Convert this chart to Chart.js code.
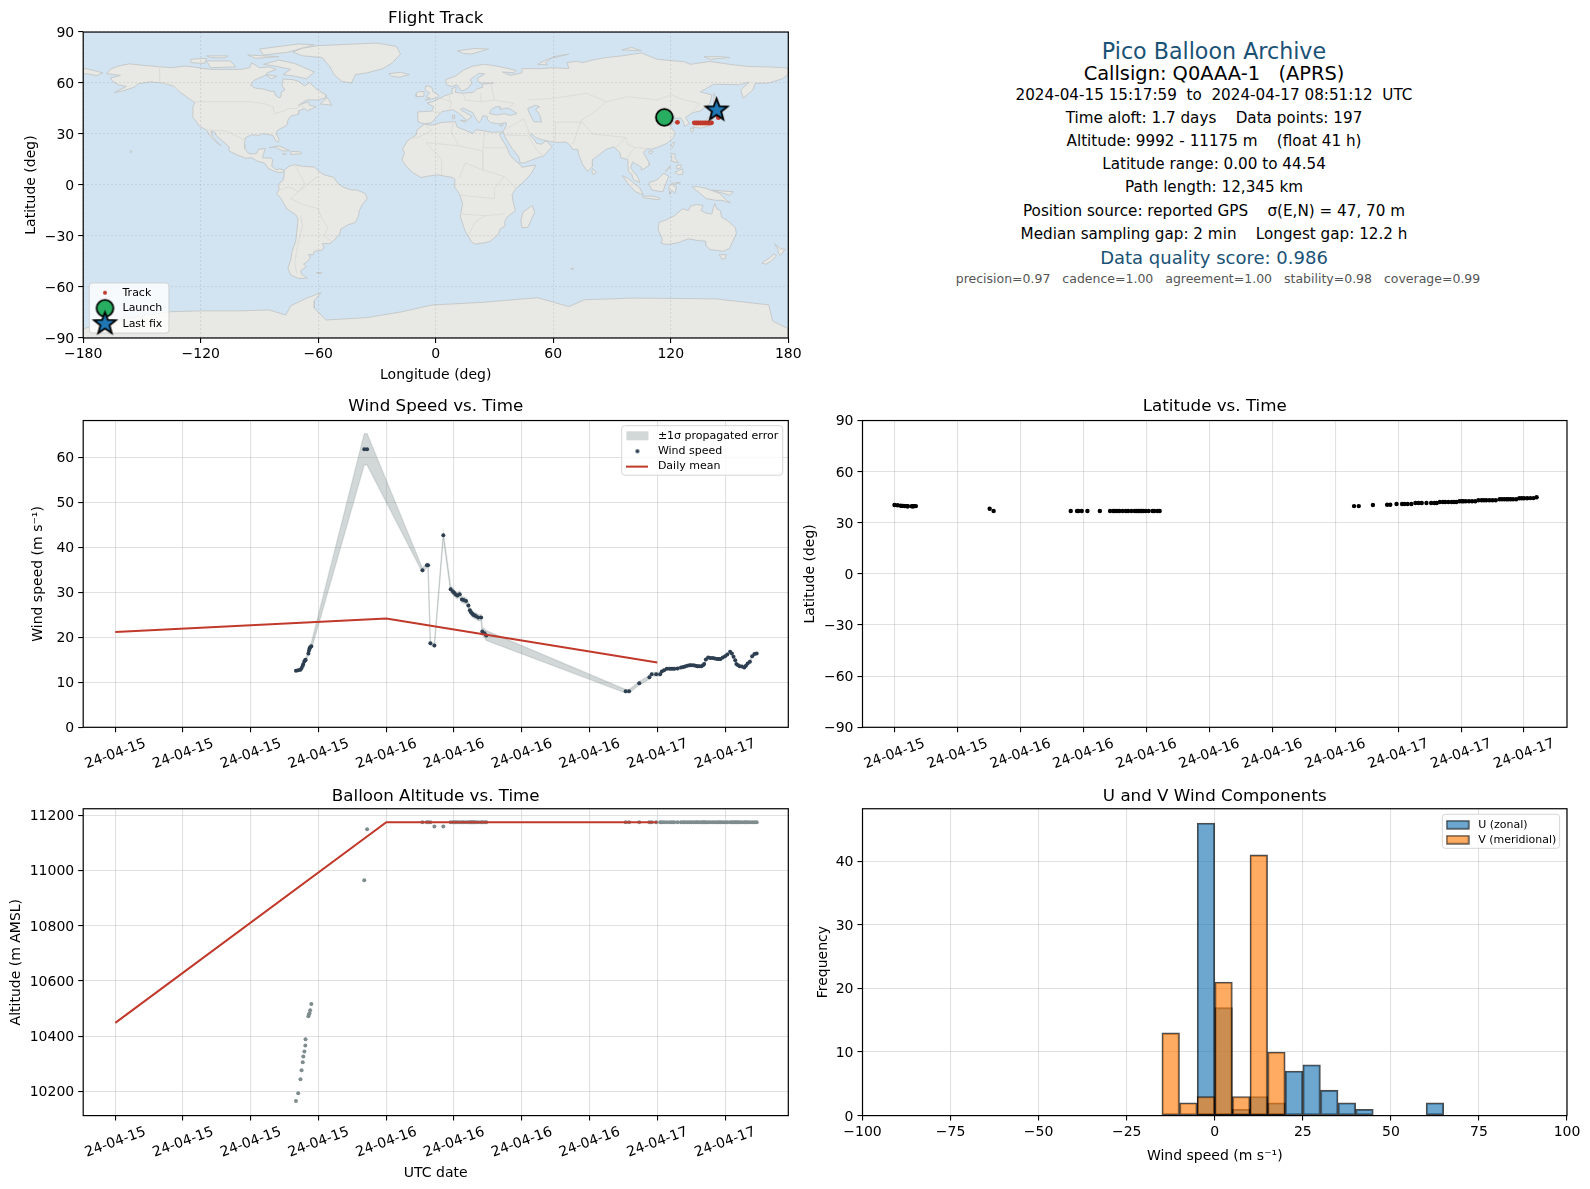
<!DOCTYPE html>
<html>
<head>
<meta charset="utf-8">
<title>Pico Balloon Archive</title>
<script src="https://cdn.jsdelivr.net/npm/chart.js@4"></script>
<style>
  html, body { margin: 0; padding: 0; background: #fff; }
  body { width: 1590px; height: 1189px; position: relative; overflow: hidden; font-family: "DejaVu Sans", sans-serif; }
  canvas { position: absolute; }
  .line { position: absolute; left: 1214px; transform: translate(-50%, -50%); white-space: pre; color: #000; }
</style>
</head>
<body>
<script>
// flight samples, hours since 2024-04-15 00:00 UTC
const sampleHours = [
  16.0,16.2,16.4,16.5,16.6,16.65,16.75,16.83,16.85,17.1,17.15,17.2,17.26,17.36,
  22.05,22.3,
  27.2,27.6,27.7,27.9,28.26,29.05,
  29.7,29.9,30.0,30.15,30.3,30.5,30.7,30.85,31.06,31.27,31.4,31.5,31.6,31.7,31.8,31.95,32.15,32.4,32.5,32.7,32.85,
  45.2,45.5,46.4,47.3,47.5,47.9,48.25,
  48.4,48.6,48.84,49.1,49.3,49.5,49.8,50.1,50.3,50.45,
  50.65,50.85,51.0,51.2,51.4,51.55,51.7,51.9,52.05,52.15,
  52.3,52.5,52.7,52.9,53.1,53.3,53.45,53.6,53.8,54.0,
  54.2,54.45,54.6,54.75,54.9,55.0,55.15,55.3,55.5,55.7,
  55.85,56.0,56.2,56.4,56.6,56.8
];
const windSpeed = [
  12.6,12.7,12.8,13.2,13.7,14.1,14.7,14.9,15.0,16.4,17.0,17.5,17.8,18.0,
  61.8,61.8,
  34.9,36.0,36.0,18.7,18.2,42.7,
  30.7,30.2,29.9,29.5,29.3,29.6,28.4,28.3,28.1,27.1,26.0,25.6,25.3,25.0,24.9,24.7,24.4,24.4,21.3,20.9,20.4,
  8.0,8.0,9.8,11.1,11.8,11.8,11.8,
  12.4,12.7,13.0,13.0,13.0,13.0,13.1,13.3,13.4,13.5,
  13.7,13.8,13.8,13.8,13.7,13.6,13.6,13.6,13.8,14.1,
  15.1,15.5,15.4,15.4,15.3,15.2,15.2,15.2,15.5,15.8,
  16.2,16.8,16.4,15.7,14.9,14.1,13.8,13.6,13.5,13.3,
  13.7,14.2,14.6,15.8,16.3,16.4
];
const windSigma = [
  0.3,0.3,0.3,0.3,0.3,0.3,0.3,0.3,0.3,0.4,0.4,0.4,0.5,0.8,
  3.5,3.5,
  0.5,0.5,0.5,0.4,0.4,0.6,
  0.7,0.7,0.7,0.7,0.7,0.7,0.7,0.7,0.7,0.7,0.7,0.7,0.7,0.7,0.7,0.7,0.7,0.7,0.8,1.0,1.1,
  0.4,0.4,0.4,0.4,0.4,0.4,0.4,
  0.3,0.3,0.3,0.3,0.3,0.3,0.3,0.3,0.3,0.3,
  0.3,0.3,0.3,0.3,0.3,0.3,0.3,0.3,0.3,0.3,
  0.3,0.3,0.3,0.3,0.3,0.3,0.3,0.3,0.3,0.3,
  0.3,0.3,0.3,0.3,0.3,0.3,0.3,0.3,0.3,0.3,
  0.3,0.3,0.3,0.3,0.3,0.3
];
const altitude = [
  10165,10193,10244,10276,10305,10326,10344,10366,10389,10472,10478,10483,10494,10516,
  10965,11150,
  11175,11175,11175,11175,11160,11160,
  11175,11175,11175,11175,11175,11175,11175,11175,11175,11175,11175,11175,11175,11175,11175,11175,11175,11175,11175,11175,11175,
  11175,11175,11175,11175,11175,11175,11175,
  11175,11175,11175,11175,11175,11175,11175,11175,11175,11175,
  11175,11175,11175,11175,11175,11175,11175,11175,11175,11175,
  11175,11175,11175,11175,11175,11175,11175,11175,11175,11175,
  11175,11175,11175,11175,11175,11175,11175,11175,11175,11175,
  11175,11175,11175,11175,11175,11175
];
const latitude = [
  40.4,40.3,40.0,39.9,39.9,39.8,39.8,39.7,39.7,39.7,39.7,39.7,39.8,39.8,
  38.2,36.9,
  36.9,36.9,36.9,36.9,36.9,36.9,
  36.9,36.9,36.9,36.9,36.9,36.9,36.9,36.9,36.9,36.9,36.9,36.9,36.9,36.9,36.9,36.9,36.9,36.9,36.9,36.9,36.9,
  39.8,39.8,40.4,40.6,40.6,41.0,41.0,
  41.0,41.0,41.0,41.6,41.6,41.6,41.6,41.6,41.6,41.6,
  42.2,42.2,42.2,42.2,42.2,42.2,42.2,42.6,42.6,42.6,
  42.6,42.6,42.6,42.6,43.2,43.2,43.2,43.2,43.2,43.2,
  43.2,43.8,43.8,43.8,43.8,43.8,43.8,43.8,43.8,44.4,
  44.4,44.4,44.4,44.5,44.5,45.0
];

const meanHours = [0, 24, 48];
const meanWind = [21.2, 24.2, 14.4];
const meanAltitude = [10448, 11175, 11175];

const trackPoints = [[117.5,40],[118.5,39.9],[123.4,36.9],[132,36.6],[133,36.5],[134,36.5],[135,36.5],[136,36.5],[137,36.5],[138,36.5],[139,36.5],[140,36.5],[140.8,36.6],[144.3,39.6],[144.2,40.5],[144,41.5],[143.8,42.5],[143.5,43.5]];
const launchPoint = [116.7, 39.8];
const lastFixPoint = [143.4, 44.1];

const binCenters = [-12.5,-7.5,-2.5,2.5,7.5,12.5,17.5,22.5,27.5,32.5,37.5,42.5,62.5];
const uCounts = [0,0,46,17,1,3,2,7,8,4,2,1,2];
const vCounts = [13,2,3,21,3,41,10,0,0,0,0,0,0];

const infoLines = [
  ['Pico Balloon Archive', 51, 22.2, '#1a5276', 1214],
  ['Callsign: Q0AAA-1   (APRS)', 73, 19.4, '#000', 1214],
  ['2024-04-15 15:17:59  to  2024-04-17 08:51:12  UTC', 94.5, 15.2, '#000', 1214],
  ['Time aloft: 1.7 days    Data points: 197', 117.5, 15.2, '#000', 1214],
  ['Altitude: 9992 - 11175 m    (float 41 h)', 141, 15.2, '#000', 1214],
  ['Latitude range: 0.00 to 44.54', 163.5, 15.2, '#000', 1214],
  ['Path length: 12,345 km', 186.5, 15.2, '#000', 1214],
  ['Position source: reported GPS    σ(E,N) = 47, 70 m', 210.5, 15.2, '#000', 1214],
  ['Median sampling gap: 2 min    Longest gap: 12.2 h', 233.5, 15.2, '#000', 1214],
  ['Data quality score: 0.986', 257, 18, '#1a5276', 1214],
  ['precision=0.97   cadence=1.00   agreement=1.00   stability=0.98   coverage=0.99', 277.5, 12.5, '#555', 1218]
];

// coastlines, lon/lat
const northAmerica = [[-168,65.5],[-166,68.3],[-162,70],[-156.5,71.3],[-150,70.5],[-141,69.6],[-135,69],[-128,70],[-124,69.5],[-115,68],[-108,68],[-100,68],[-95,69],[-94,72],[-90,69],[-85,69.5],[-81.5,68],[-86,66],[-87,64.5],[-93,61.5],[-94.5,58.7],[-92,57],[-88,56.5],[-85,55.3],[-82.3,55],[-82,53],[-80,51.3],[-79,52],[-79,54.5],[-77,56],[-78.5,58.5],[-78,62.3],[-73,62],[-70,61],[-67,58.3],[-64.5,60.3],[-61,56.5],[-56,53],[-56,51.5],[-60,50],[-66,50],[-70,47],[-65,49],[-64.5,47],[-61,46],[-65.5,43.7],[-67,45],[-70,43.7],[-70,41.7],[-74,40.5],[-75.5,38],[-76,35.2],[-78,33.9],[-81,32],[-81.3,30],[-80,26.8],[-80.5,25.2],[-81.7,26],[-83,29],[-85,29.7],[-89,30.2],[-90,29.2],[-94,29.6],[-97.2,27.8],[-97.7,24],[-97.5,21.5],[-96,19],[-94,18.2],[-91.5,18.6],[-90.5,21],[-87,21.5],[-88,18],[-88.5,16],[-84,15.8],[-83.3,14.9],[-83.7,11],[-81.5,9],[-79.5,9.5],[-77.3,8.6],[-78,7.5],[-80,7.3],[-83,8.3],[-85.7,10],[-87.5,13],[-91,14],[-94,16],[-97,15.8],[-102,18],[-105.5,20],[-105.5,22.5],[-108.5,25.5],[-112,29],[-113,31.3],[-114.8,31.5],[-114,28.5],[-110.5,24],[-109.5,23],[-112,25],[-115,28.5],[-117.2,32.5],[-120.5,34.5],[-122.5,37.7],[-124.3,40.3],[-124,46],[-123,48.5],[-125,50],[-128,52.5],[-130.5,54.5],[-133.5,58],[-139,60],[-146,60.7],[-152,59.5],[-154,57.5],[-160,55.3],[-164,54.5],[-158,58],[-162,59],[-165,61],[-166,63],[-161,64.5]];
const southAmerica = [[-77.3,8.6],[-75,11],[-72,12],[-68,11],[-62,10.6],[-60,8.3],[-57,6],[-52,4.5],[-50,1],[-48,-0.8],[-44,-2.7],[-40,-3],[-36,-5],[-35,-8],[-37.5,-11.5],[-39,-15],[-39.5,-18.5],[-41,-22],[-45,-23.5],[-48.5,-26],[-49,-28.8],[-52,-32.5],[-54,-34.5],[-58,-34.5],[-57,-36.5],[-58,-38.3],[-62,-39],[-62.5,-41],[-65,-41],[-64,-42.5],[-65.5,-45],[-67.5,-46.5],[-66,-48],[-69,-50.5],[-68.5,-52.5],[-65.5,-54.8],[-70,-55],[-74,-53],[-75.5,-49],[-74,-44],[-73.5,-39.5],[-71.5,-33],[-71,-28],[-70.3,-20],[-71.5,-17.5],[-76,-14],[-79,-8],[-81.2,-5],[-80,-2.5],[-80.3,0.5],[-78,2.8],[-77.5,5]];
const africa = [[-5.8,35.8],[-2,35.2],[3,36.8],[10,37.3],[11,34],[15,32.3],[19,30.3],[20.5,32.6],[25,31.8],[29,31],[32.5,31.2],[34.3,31.3],[32.5,29.5],[34,26.5],[36.5,22],[37.5,18.5],[39.5,15.5],[43,12],[44,10.5],[51,11.8],[49,7],[45,2],[41,-2],[39,-5.5],[39.5,-10],[40.7,-15],[36.5,-18.8],[35,-22],[35.5,-24],[32.8,-26],[32,-29],[28,-33],[25,-34],[20,-34.8],[18.3,-33.5],[15,-27],[12.5,-18.5],[13.7,-11],[12,-5],[9.5,-1],[9.7,3.5],[8.5,4.5],[5.5,5],[1,6],[-4,5.2],[-7.5,4.4],[-12,7.5],[-15,11],[-17.3,14.7],[-16,19],[-17,21],[-14.5,26],[-10,29.5],[-9.5,32.5]];
const eurasia = [[-9,37],[-9.3,43],[-2,43.5],[-1,46],[-4.5,48.3],[-1.5,49],[2,51],[4.5,52.5],[8.5,54],[8.2,56.8],[10.5,57.5],[10,54.5],[14,54],[19,54.5],[21,56.5],[24,57.5],[23.5,59.3],[29.5,60],[23,60],[21.5,61],[21.5,63],[25,65.3],[22,65.7],[17.5,62],[18.5,60],[16.5,57],[14,55.5],[12.5,56],[11,59],[8,58],[5.5,59],[5,62],[10,64],[14,67.5],[19,70],[25,71],[31,70],[41,67.5],[40,66],[34,66.5],[38,64.5],[44,66],[44,68.5],[54,68.5],[60,69],[68,68.5],[67,72],[72,72.8],[75,72],[80,73.5],[87,75],[95,76],[105,77.7],[113,74],[127,72.5],[130,71],[140,72.7],[150,71],[160,69.7],[170,69.5],[178,69],[180,68.8],[180,65],[177,62.5],[170,60],[163,59.8],[162,56],[157,51],[155.7,56],[160,60.5],[155,59],[142,59.3],[135,54.8],[141,53],[140,48],[135,43.5],[131,42.5],[127.5,39.8],[129.5,36],[127,34.5],[126.5,37],[125,39.5],[121.5,39],[122,40.7],[118,39],[119,37.3],[122.5,37],[119.5,35],[122,31],[121.5,28],[118,24.5],[113.5,22.3],[110,21],[108,21.5],[106,19],[109,13],[109,11.5],[105,8.7],[105,10.5],[100.5,13.5],[99.5,10],[103,5],[104.2,1.5],[101,3],[100,6.5],[98.3,8],[98,15],[94.5,16],[94,19],[91,22.5],[87,21],[82,16.5],[80,15],[80,11],[77.5,8],[75,12],[73,18],[72.5,21],[70,21],[68.5,23.5],[66.5,25.3],[61,25],[57,26],[54,26.7],[51,28],[49,30],[48,29.5],[50.5,26.5],[51.5,24.5],[54,24],[56.3,26],[59.5,22.5],[55,17],[52,16],[45,13],[43,13],[42.5,16.5],[39,21.5],[36,27],[35,29.5],[34.3,31.3],[36,35],[36,36.7],[32,36],[28,36.7],[26.5,38.5],[26.3,40.3],[24,40.8],[23,38],[22,36.5],[19.5,41],[19,42.5],[14,45.3],[12.5,44.5],[18.5,40.3],[16,38],[12,42],[8.8,44.3],[3,43.2],[0,39.5],[-2,36.7],[-5.5,36]];
const chukotkaTip = [[-180,68.8],[-175,67.5],[-170,66],[-173,64.3],[-178,65.5],[-180,65]];
const greenland = [[-73,78.2],[-68,80.5],[-60,82],[-45,82.8],[-30,83.5],[-20,81.5],[-18,77],[-22,72],[-27,68.5],[-35,66],[-41,65],[-43,60],[-48,61],[-52,65],[-54,69.5],[-58,75],[-68,76]];
const australia = [[114,-22],[113.5,-26],[115.7,-32],[115,-34.3],[118,-35],[123.5,-34],[129,-31.7],[134,-32.7],[137.7,-33],[137.8,-35.5],[140,-38],[144,-38.5],[147,-39],[150,-37.3],[151.5,-33.5],[153.5,-28.5],[153,-25],[149,-21],[146,-19],[145.3,-15],[143.5,-14],[142.5,-11],[141.5,-14],[141,-17],[138,-16.5],[135.5,-15],[136.5,-12],[133,-11.5],[130,-12.5],[129,-15],[126,-14],[122,-18],[118,-20.3]];
const antarctica = [[-180,-90],[-180,-84.5],[-165,-80],[-150,-77],[-135,-74.5],[-118,-74],[-100,-74],[-85,-73.5],[-76.6,-76.5],[-74,-71],[-66,-66.6],[-58.5,-63.3],[-62,-68],[-62,-72.5],[-56,-79.4],[-35,-78],[-17,-74.5],[-2,-70.6],[24,-69],[52,-66.3],[68,-71.5],[76,-67.5],[101,-66.5],[143,-67],[170,-70.5],[172,-80],[180,-84.5],[180,-90]];
const islands = [
  [[-80,73.5],[-72,71.5],[-68,69.5],[-62,66.5],[-66,62.5],[-72,64],[-78,65],[-74,68],[-82,70],[-88,71]],
  [[-117,73],[-105,73],[-102,69.5],[-115,69]],
  [[-90,80],[-70,83],[-62,82.5],[-76,78],[-88,76.5]],
  [[-125,74],[-117,74.5],[-118,71.5],[-125,72]],
  [[-96,76.5],[-80,75.5],[-92,74.5]],
  [[-117,76],[-106,76],[-108,74.7],[-115,75]],
  [[-87,65],[-81,64],[-84,62.5]],
  [[-59,47.7],[-55.5,51.5],[-53,47]],
  [[-85,22],[-80,23],[-74.5,20.2],[-78,20],[-82,22.3]],
  [[-74,19.8],[-69,19.5],[-68.5,18.3],[-74,18]],
  [[-78.3,18.4],[-76.3,18.2],[-77,17.8]],
  [[-5.5,50],[1,51.3],[1.5,52.8],[-1.5,55],[-2,57.6],[-5,58.5],[-5.5,56],[-3,54],[-5,52],[-3,51.3]],
  [[-10,52],[-6,52.2],[-6,55],[-8.5,55],[-10,54]],
  [[-24,65.5],[-18,66.3],[-13.5,65],[-18.5,63.4],[-22.5,64]],
  [[11,79],[20,80.3],[27,80],[18,77],[14,77.5]],
  [[52,71],[57,74],[68,77],[60,75.5],[56,72],[57,70.7]],
  [[95,79.5],[105,79],[100,81]],
  [[137,75.5],[146,75.5],[150,75],[140,74]],
  [[142,54],[143.5,50],[143,46.5],[142,46],[142,50]],
  [[130.9,34],[135.5,33.5],[140,35],[141,38],[141.5,41],[140,40.5],[137,37],[133,35.5]],
  [[140,42],[141.5,45.5],[145.3,43.5],[143,42]],
  [[130,33.5],[131.8,33],[131,31],[130,32]],
  [[121,25],[122,25],[120.8,22],[120,23.5]],
  [[109,20],[111,20],[110,18.3],[108.7,19]],
  [[120.5,18.5],[122.3,18.3],[122,16],[124,13],[120.5,14]],
  [[122,7.5],[126,9.5],[126.3,6.5],[124,6]],
  [[123,11.5],[125.5,12],[125,10],[123,9.5]],
  [[117.2,8.3],[119.5,11],[119.5,10],[117.5,8]],
  [[109,1.5],[113,3],[116.5,7],[119,5],[117.5,1],[116,-4],[110.5,-3],[109,0]],
  [[95.3,5.5],[98,4],[104,-1.5],[106,-5.8],[102,-4],[98,1]],
  [[105.3,-6.5],[111,-6.5],[114.5,-7.7],[114,-8.7],[106,-7.5]],
  [[119.5,-5.5],[119,-1],[120.5,1],[125,1.5],[121,0],[122,-1],[123,-1],[122,-5],[120.5,-3]],
  [[131,-1],[134,-1],[138,-2],[145,-5],[148,-8.5],[150.5,-10.5],[146,-9],[143,-9],[138,-8],[134,-4],[132.5,-3]],
  [[80,9.7],[82,7.5],[80.5,6],[79.7,8]],
  [[49.3,-12],[50.5,-16],[47,-25],[44,-25],[43.5,-21],[44.5,-16]],
  [[144.7,-41],[148.3,-41],[147.8,-43.3],[146,-43.5]],
  [[173,-34.5],[176,-37.5],[178.4,-37.7],[176,-41.5],[175,-40],[174.7,-38]],
  [[172.7,-40.5],[174,-41.7],[171,-45],[168.5,-46.6],[166.5,-45.8],[170.5,-42.8]],
  [[-61,-51.5],[-58,-51.5],[-59,-52.3]],
  [[69,-49],[70.5,-49.2],[69.5,-49.8]],
  [[8.5,41],[9.8,41],[9.5,39],[8.5,39]],
  [[12.5,38],[15.5,38],[15,36.8]],
  [[32.5,35],[34.5,35.6],[33.5,34.6]],
  [[-156,20.3],[-155,19.8],[-155.7,19]],
  [[141,-3],[152,-4],[150,-6]]
];
const blackSea = [[27.5,42],[28,44],[30.5,46],[33,46],[33,44.5],[35,45],[37,45.3],[39,44],[41.5,42],[38,41],[35,42],[31,41.2]];
const caspianSea = [[47,45],[51,47],[53,46],[51,44.5],[53,41.5],[54,37],[50,37.3],[49,39.5],[47.5,43]];
const borderLines = [
  [[-123,49],[-95,49],[-88,48],[-83,46],[-82.5,42],[-79,43],[-75,45],[-71,45],[-69,47.3],[-67.5,45.5]],
  [[-141,69.6],[-141,60.3],[-135,59],[-130.5,55]],
  [[-117,32.5],[-106.5,31.7],[-97.2,26]],
  [[-60,5],[-65,1],[-70,-4],[-74,-8],[-69,-11],[-60,-14],[-58,-20],[-55,-25],[-57,-30],[-53,-33.5]],
  [[-69,-18],[-68,-24],[-70,-33],[-72,-45],[-71,-52]],
  [[-72,12],[-67,1],[-70,-4]],
  [[-80,-3],[-75,-1],[-70,-4]],
  [[-5,35],[-2,32],[-9,28],[-13,27.5]],
  [[9,37],[8,31],[12,23],[24,20],[25,31.8]],
  [[24,20],[24,9],[35,5],[41,-2]],
  [[36.5,22],[24,22]],
  [[-5,25],[12,23]],
  [[3,6],[3,15],[-5,25]],
  [[12,4],[15,13],[24,9]],
  [[13,-6],[30,-8],[30,-2],[35,5]],
  [[12,-17],[25,-18],[35,-17]],
  [[17,-29],[20,-22],[25,-18]],
  [[-2,43.3],[3,42.5]],
  [[2.5,51],[8,49],[7,44]],
  [[7,54],[7,50]],
  [[14,54],[15,50],[23,49],[23,54]],
  [[28,60],[30,50],[40,48],[38,46]],
  [[30,50],[23,49]],
  [[47,50],[60,51],[77,54],[87,49]],
  [[87,49],[98,52],[113,50],[120,53],[127,50],[135,48],[131,43]],
  [[74,38],[80,30],[97,28],[98,24],[102,22],[108,21.5]],
  [[60,37],[74,37],[74,38],[80,42],[87,49]],
  [[45,39],[48,30]],
  [[61,25],[61,37]],
  [[74,37],[70,24]],
  [[97,28],[92,22]],
  [[98,16],[100,20],[102,22]],
  [[36,33],[42,37],[45,39]],
  [[35,29.5],[47,29],[52,20],[55,17]]
];

const titleFont = { family: 'DejaVu Sans', size: 16.7, weight: 'normal', lineHeight: 1.2 };
const tickFont = { family: 'DejaVu Sans', size: 14 };
const labelFont = { family: 'DejaVu Sans', size: 14, lineHeight: 1.2 };
const gridColor = 'rgba(176,176,176,0.38)';

function newMarker(w, h, draw) {
  const c = document.createElement('canvas');
  c.width = w;
  c.height = h;
  draw(c.getContext('2d'), w / 2, h / 2);
  return c;
}
function circleMarker(r, fill, stroke, lw) {
  lw = lw || 0;
  const s = Math.ceil(r * 2 + lw + 2);
  return newMarker(s, s, (ctx, cx, cy) => {
    ctx.beginPath();
    ctx.arc(cx, cy, r, 0, Math.PI * 2);
    ctx.fillStyle = fill;
    ctx.fill();
    if (lw) { ctx.strokeStyle = stroke; ctx.lineWidth = lw; ctx.stroke(); }
  });
}
function starMarker(r, fill, stroke, lw) {
  const s = Math.ceil(r * 2 + lw + 4);
  return newMarker(s, s, (ctx, cx, cy) => {
    ctx.beginPath();
    for (let i = 0; i < 10; i++) {
      const rad = i % 2 ? r * 0.42 : r;
      const a = -Math.PI / 2 + i * Math.PI / 5;
      ctx.lineTo(cx + rad * Math.cos(a), cy + rad * Math.sin(a));
    }
    ctx.closePath();
    ctx.fillStyle = fill;
    ctx.fill();
    ctx.strokeStyle = stroke;
    ctx.lineWidth = lw;
    ctx.lineJoin = 'miter';
    ctx.stroke();
  });
}
function rectMarker(w, h, fill, stroke) {
  return newMarker(w + 2, h + 2, (ctx) => {
    ctx.fillStyle = fill;
    ctx.fillRect(1, 1, w, h);
    if (stroke) { ctx.strokeStyle = stroke; ctx.lineWidth = 1.3; ctx.strokeRect(1, 1, w, h); }
  });
}
function lineMarker(w, color, lw) {
  return newMarker(w, 4, (ctx) => {
    ctx.fillStyle = color;
    ctx.fillRect(0, 2 - lw / 2, w, lw);
  });
}

function hourLabel(v) {
  return '24-04-' + (15 + Math.floor(v / 24));
}
function minusLabel(v) {
  return String(v).replace('-', '\u2212');
}

// area background, frame, and places the legend inside the axes
const panelPlugin = {
  id: 'panel',
  beforeLayout(chart) {
    const opts = chart.options.plugins.panel;
    if (chart.legend && opts.legendBox) {
      chart.legend._layers = () => [{
        z: 5,
        draw() {
          const b = opts.legendBox;
          const ctx = chart.ctx;
          ctx.save();
          ctx.fillStyle = 'rgba(255,255,255,0.8)';
          ctx.strokeStyle = 'rgba(204,204,204,0.8)';
          ctx.lineWidth = 1;
          ctx.beginPath();
          ctx.roundRect(b.x, b.y, b.w, b.h, 3);
          ctx.fill();
          ctx.stroke();
          ctx.restore();
          chart.legend.draw();
        }
      }];
    }
  },
  afterLayout(chart) {
    const opts = chart.options.plugins.panel;
    if (chart.legend && opts.legendBox) {
      const b = opts.legendBox;
      const l = chart.legend;
      l.left = b.x + b.dx;
      l.top = b.y + b.dy;
      l.right = b.x + b.w + 10;
      l.bottom = b.y + b.h + 10;
      l.width = l.right - l.left;
      l.height = l.bottom - l.top;
    }
  },
  beforeDatasetsDraw(chart) {
    const bg = chart.options.plugins.panel.background;
    if (bg) {
      const a = chart.chartArea;
      chart.ctx.fillStyle = bg;
      chart.ctx.fillRect(a.left, a.top, a.width, a.height);
    }
  },
  afterDraw(chart) {
    const a = chart.chartArea;
    const ctx = chart.ctx;
    ctx.save();
    ctx.strokeStyle = '#000';
    ctx.lineWidth = 1.2;
    ctx.strokeRect(a.left, a.top, a.width, a.height);
    ctx.restore();
  }
};

function pairs(xs, ys) {
  return xs.map((x, i) => ({ x: x, y: ys[i] }));
}
function axisX(o) {
  return {
    type: 'linear',
    min: o.min,
    max: o.max,
    offset: false,
    border: { display: false, dash: o.dash || [] },
    grid: Object.assign({ color: gridColor, tickColor: '#000', tickLength: 5, offset: false, lineWidth: 1.1 }, o.grid || {}),
    ticks: { font: tickFont, color: '#000', stepSize: o.step, includeBounds: false, autoSkip: false, padding: 3, maxRotation: o.rot || 0, minRotation: o.rot || 0, labelOffset: o.rot ? 30 : 0, callback: o.label },
    title: o.title ? { display: true, text: o.title, font: labelFont, color: '#000', padding: o.titlePad } : { display: false },
    afterFit(s) { s.height = o.boxSize; }
  };
}
function axisY(o) {
  return {
    type: 'linear',
    min: o.min,
    max: o.max,
    border: { display: false, dash: o.dash || [] },
    grid: Object.assign({ color: gridColor, tickColor: '#000', tickLength: 5, lineWidth: 1.1 }, o.grid || {}),
    ticks: { font: tickFont, color: '#000', stepSize: o.step, includeBounds: false, autoSkip: false, padding: 4, labelOffset: 1.3, callback: o.label || minusLabel },
    title: { display: true, text: o.title, font: labelFont, color: '#000', padding: o.titlePad },
    afterFit(s) { s.width = o.boxSize; }
  };
}

function makePanel(p) {
  const canvas = document.createElement('canvas');
  canvas.width = p.w;
  canvas.height = p.h;
  canvas.style.left = p.x + 'px';
  canvas.style.top = p.y + 'px';
  canvas.style.width = p.w + 'px';
  canvas.style.height = p.h + 'px';
  document.body.appendChild(canvas);
  const titleBottom = p.titleGap - 10;
  const titleTop = p.area.top - p.y - 20 - titleBottom;
  p.xAxis.boxSize = p.y + p.h - p.area.bottom;
  p.yAxis.boxSize = p.area.left - p.x;
  const legendOpts = p.legend ? {
    display: true,
    position: 'chartArea',
    align: 'start',
    labels: {
      usePointStyle: true,
      pointStyleWidth: p.legend.handle,
      boxHeight: 11,
      padding: p.legend.pad,
      font: { family: 'DejaVu Sans', size: 11 },
      color: '#000',
      generateLabels: () => p.legend.items.map((it, i) => ({
        text: it[0], pointStyle: it[1], fontColor: '#000', hidden: false, lineWidth: 0, datasetIndex: i
      }))
    }
  } : { display: false };
  return new Chart(canvas.getContext('2d'), {
    type: p.type,
    data: { datasets: p.datasets },
    plugins: [panelPlugin],
    options: {
      responsive: false,
      animation: false,
      devicePixelRatio: 1,
      events: [],
      layout: { autoPadding: false, padding: { left: 0, top: 0, right: p.x + p.w - p.area.right, bottom: 0 } },
      plugins: {
        title: { display: true, text: p.title, font: titleFont, color: '#000', fullSize: false, padding: { top: titleTop, bottom: titleBottom } },
        legend: legendOpts,
        tooltip: { enabled: false },
        panel: { background: p.background, legendBox: p.legend && p.legend.box }
      },
      scales: { x: axisX(p.xAxis), y: axisY(p.yAxis) }
    }
  });
}

function landSet(poly) {
  return { type: 'line', data: poly.concat([poly[0]]), fill: 'shape', backgroundColor: '#e8e8e4', borderColor: '#c6cacb', borderWidth: 1, pointRadius: 0, tension: 0, order: 10 };
}
function waterSet(poly) {
  return { type: 'line', data: poly.concat([poly[0]]), fill: 'shape', backgroundColor: '#d2e4f1', borderColor: '#c6cacb', borderWidth: 1, pointRadius: 0, tension: 0, order: 9 };
}

const landPolys = [northAmerica, southAmerica, africa, eurasia, chukotkaTip, greenland, australia, antarctica].concat(islands);

// --- Flight Track
const trackColor = '#c0392b';
const starStyle = starMarker(11.5, '#1f77b4', '#000', 1.8);
const launchStyle = circleMarker(8.4, '#27ae60', '#000', 1.8);
const mapGrid = { z: 1, color: 'rgba(120,120,120,0.16)' };
makePanel({
  type: 'line', x: 0, y: 0, w: 815, h: 385, title: 'Flight Track', titleGap: 13.5,
  area: { left: 83.2, top: 32, right: 788.3, bottom: 338 },
  background: '#d2e4f1',
  xAxis: { min: -180, max: 180, step: 60, label: minusLabel, title: 'Longitude (deg)', titlePad: 1, grid: mapGrid, dash: [2, 2] },
  yAxis: { min: -90, max: 90, step: 30, title: 'Latitude (deg)', titlePad: 23, grid: mapGrid, dash: [2, 2] },
  legend: {
    handle: 24, pad: 4.5,
    box: { x: 89.3, y: 283, w: 79.6, h: 50, dx: -0.8, dy: -0.3 },
    items: [['Track', circleMarker(2, trackColor)], ['Launch', launchStyle], ['Last fix', starStyle]]
  },
  datasets: landPolys.map(landSet).concat([blackSea, caspianSea].map(waterSet)).concat(borderLines.map(b => ({
    type: 'line', data: b, fill: false, borderColor: '#dcdcd8', borderWidth: 1, pointRadius: 0, tension: 0, order: 8
  }))).concat([
    { type: 'line', label: 'Track', data: trackPoints, showLine: false, fill: false, pointRadius: 2.4, pointBorderWidth: 0, pointBackgroundColor: trackColor, order: 3 },
    { type: 'line', label: 'Launch', data: [launchPoint], showLine: false, fill: false, pointStyle: launchStyle, order: 2 },
    { type: 'line', label: 'Last fix', data: [lastFixPoint], showLine: false, fill: false, pointStyle: starStyle, order: 1 }
  ])
});

// --- Wind Speed vs. Time
const bandColor = 'rgba(127,140,141,0.35)';
const bandEdge = 'rgba(127,140,141,0.22)';
const meanColor = '#c0392b';
makePanel({
  type: 'line', x: 0, y: 385, w: 815, h: 390, title: 'Wind Speed vs. Time', titleGap: 14,
  area: { left: 83.2, top: 420.5, right: 788.3, bottom: 727.3 },
  xAxis: { min: -2.84, max: 59.6, step: 6, rot: 20, label: hourLabel },
  yAxis: { min: 0, max: 68.2, step: 10, title: 'Wind speed (m s\u207B\u00B9)', titlePad: 30 },
  legend: {
    handle: 30, pad: 4.4,
    box: { x: 621.7, y: 40.7, w: 161, h: 49.5, dx: -3.7, dy: 0.2 },
    items: [['\u00B11\u03C3 propagated error', rectMarker(22, 9, bandColor)], ['Wind speed', circleMarker(2, '#2c3e50')], ['Daily mean', lineMarker(22, meanColor, 2)]]
  },
  datasets: [
    { label: 'upper', data: pairs(sampleHours, windSpeed.map((v, i) => v + windSigma[i])), borderColor: bandEdge, borderWidth: 1.4, pointRadius: 0, tension: 0, fill: '+1', backgroundColor: bandColor, order: 4 },
    { label: 'lower', data: pairs(sampleHours, windSpeed.map((v, i) => v - windSigma[i])), borderColor: bandEdge, borderWidth: 1.4, pointRadius: 0, tension: 0, fill: false, order: 5 },
    { label: 'Wind speed', data: pairs(sampleHours, windSpeed), showLine: false, fill: false, pointRadius: 2, pointBorderWidth: 0, pointBackgroundColor: '#2c3e50', order: 2 },
    { label: 'Daily mean', data: pairs(meanHours, meanWind), borderColor: meanColor, borderWidth: 2, pointRadius: 0, tension: 0, fill: false, order: 1 }
  ]
});

// --- Latitude vs. Time
makePanel({
  type: 'line', x: 800, y: 385, w: 790, h: 390, title: 'Latitude vs. Time', titleGap: 14,
  area: { left: 862.5, top: 420.5, right: 1567, bottom: 727.3 },
  xAxis: { min: 13.97, max: 58.73, step: 4, rot: 20, label: hourLabel },
  yAxis: { min: -90, max: 90, step: 30, title: 'Latitude (deg)', titlePad: 1.8 },
  datasets: [
    { label: 'Latitude', data: pairs(sampleHours, latitude), showLine: false, fill: false, pointRadius: 2.2, pointBorderWidth: 0, pointBackgroundColor: '#000' }
  ]
});

// --- Balloon Altitude vs. Time
makePanel({
  type: 'line', x: 0, y: 775, w: 815, h: 414, title: 'Balloon Altitude vs. Time', titleGap: 12.5,
  area: { left: 83.2, top: 808.7, right: 788.3, bottom: 1115.6 },
  xAxis: { min: -2.84, max: 59.6, step: 6, rot: 20, label: hourLabel, title: 'UTC date', titlePad: 7.6 },
  yAxis: { min: 10112, max: 11224, step: 200, title: 'Altitude (m AMSL)', titlePad: 8, label: v => String(v) },
  datasets: [
    { label: 'Altitude', data: pairs(sampleHours, altitude), showLine: false, fill: false, pointRadius: 2, pointBorderWidth: 0, pointBackgroundColor: '#7f8c8d', order: 2 },
    { label: 'Daily mean', data: pairs(meanHours, meanAltitude), borderColor: meanColor, borderWidth: 2, pointRadius: 0, tension: 0, fill: false, order: 1 }
  ]
});

// --- U and V Wind Components
const uFill = 'rgba(31,119,180,0.65)';
const vFill = 'rgba(255,127,14,0.65)';
const barEdge = 'rgba(0,0,0,0.7)';
function histSet(label, counts, fill, order) {
  const pts = pairs(binCenters, counts).filter(p => p.y > 0);
  return { label: label, data: pts, backgroundColor: fill, borderColor: barEdge, borderWidth: 1.4, borderSkipped: false, barThickness: 17.6, grouped: false, order: order };
}
makePanel({
  type: 'bar', x: 800, y: 775, w: 790, h: 414, title: 'U and V Wind Components', titleGap: 12.5,
  area: { left: 862.5, top: 808.7, right: 1567, bottom: 1115.6 },
  xAxis: { min: -100, max: 100, step: 25, label: minusLabel, title: 'Wind speed (m s\u207B\u00B9)', titlePad: 24.6 },
  yAxis: { min: 0, max: 48.26, step: 10, title: 'Frequency', titlePad: 15 },
  legend: {
    handle: 30, pad: 4,
    box: { x: 642.3, y: 39.3, w: 117.3, h: 34, dx: -3.6, dy: 1 },
    items: [['U (zonal)', rectMarker(22, 8, uFill, barEdge)], ['V (meridional)', rectMarker(22, 8, vFill, barEdge)]]
  },
  datasets: [histSet('U (zonal)', uCounts, uFill, 2), histSet('V (meridional)', vCounts, vFill, 1)]
});

infoLines.forEach(function(l) {
  const d = document.createElement('div');
  d.className = 'line';
  d.textContent = l[0];
  d.style.top = l[1] + 'px';
  d.style.fontSize = l[2] + 'px';
  d.style.color = l[3];
  d.style.left = l[4] + 'px';
  document.body.appendChild(d);
});
</script>
</body>
</html>
